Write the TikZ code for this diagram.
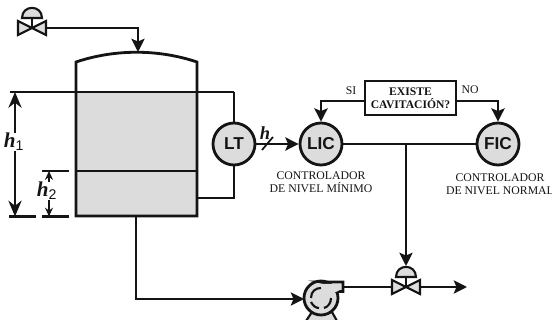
\documentclass[tikz,border=0pt]{standalone}
\usepackage{fontspec}
\setmainfont{Liberation Serif}
\setsansfont{Liberation Sans}
\usetikzlibrary{arrows.meta, positioning, calc}

\begin{document}
\begin{tikzpicture}[
    x=0.02cm, y=-0.02cm,
    every node/.style={font=\rmfamily},
    linea/.style={line width=1.35pt, draw=c1},
    flecha/.style={linea, -{Stealth[length=7.5pt, width=7.5pt, inset=1.5pt]}},
    instrumento/.style={circle, draw=c1, line width=1.6pt, fill=c2, minimum size=0.84cm,
        inner sep=0pt, text=c1, font=\sffamily\bfseries\fontsize{9.8}{12}\selectfont},
    rotulo/.style={font=\rmfamily\fontsize{6.7}{7.6}\selectfont, text=c1, inner sep=0pt},
    altura/.style={font=\rmfamily\bfseries\itshape\fontsize{12}{12}\selectfont, text=c1, inner sep=0pt},
]

\definecolor{c1}{HTML}{141414}
\definecolor{c2}{HTML}{DCDCDC}

\useasboundingbox (0,0) rectangle (552,320);

% ---------------------------------------------------------------- tank
\fill[c2] (76,92) rectangle (197,216);
\draw[linea, line width=1.6pt] (76,92) -- (76,62) .. controls (115,49) and (158,49) .. (197,62) -- (197,216) -- (76,216) -- cycle;
\coordinate (techo) at (138,52);
\coordinate (fondo) at (136,216);

% ---------------------------------------------------------------- levels
\coordinate (h1top) at (15,92);
\coordinate (h1bot) at (15,216.5);
\coordinate (h2top) at (49,171);
\coordinate (h2bot) at (49,216.5);
\coordinate (ltalta) at (234,92);
\coordinate (ltbaja) at (197,198);
\draw[linea] (10,92) -- (ltalta);
\draw[linea] (76,171) -- (197,171);
\draw[linea] (42,171) -- (69,171);
\draw[linea, line width=1.6pt] (9,216.5) -- (36,216.5);
\draw[linea, line width=1.6pt] (42,216.5) -- (69,216.5);
\node[altura] (h1) at (14,142) {h\textsubscript{\sffamily\mdseries\upshape 1}};
\node[altura] (h2) at (47,191) {h\textsubscript{\sffamily\mdseries\upshape 2}};
\draw[linea, -{Stealth[length=9pt, width=7.5pt]}] (h1.north -| h1top) -- (h1top);
\draw[linea, -{Stealth[length=9pt, width=7.5pt]}] (h1.south -| h1bot) -- (h1bot);
\draw[linea, line width=1pt, -{Stealth[length=5pt, width=4.5pt]}] (h2.north -| h2top) -- (h2top);
\draw[linea, line width=1pt, -{Stealth[length=5pt, width=4.5pt]}] (h2.south -| h2bot) -- (h2bot);

% ---------------------------------------------------------------- instruments
\node[instrumento] (lt) at (234,144) {LT};
\node[instrumento] (lic) at (321,144) {LIC};
\node[instrumento] (fic) at (498,144) {FIC};
\node[draw=c1, line width=1.6pt, minimum width=1.82cm, minimum height=0.68cm, inner sep=0pt, align=center,
    font=\rmfamily\bfseries\fontsize{6.6}{7.6}\selectfont, text=c1] (caja) at (410.5,98) {EXISTE\\CAVITACIÓN?};

\node[rotulo] (si) at (351,91) {SI};
\node[rotulo] (no) at (470,90) {NO};
\node[rotulo, align=center] (lminimo) at (321,182.5) {CONTROLADOR\\DE NIVEL MÍNIMO};
\node[rotulo, align=center] (lnormal) at (500,184.5) {CONTROLADOR\\DE NIVEL NORMAL};
\node[altura, font=\rmfamily\bfseries\itshape\fontsize{10.5}{12}\selectfont] (hlabel) at (265,133) {h};

% ---------------------------------------------------------------- valves
\foreach \nm/\vx/\vy in {ventrada/32/28, vsalida/406/287} {
  \fill[c2, draw=c1, line width=1.2pt] (\vx-14,\vy-7) -- (\vx+14,\vy+7) -- (\vx+14,\vy-7) -- (\vx-14,\vy+7) -- cycle;
  \draw[linea] (\vx,\vy) -- (\vx,\vy-10);
  \fill[c2, draw=c1, line width=1.2pt] (\vx-10,\vy-10) .. controls (\vx-10,\vy-23.5) and (\vx+10,\vy-23.5) .. (\vx+10,\vy-10) -- cycle;
  \coordinate (\nm-l) at (\vx-14,\vy);
  \coordinate (\nm-r) at (\vx+14,\vy);
  \coordinate (\nm-t) at (\vx,\vy-21);
}

% ---------------------------------------------------------------- pump
\fill[c2, draw=c1, line width=1.2pt] (306,321) -- (312,312) -- (332,312) -- (337,321);
\node[circle, draw=c1, line width=1.6pt, fill=c2, minimum size=0.68cm, inner sep=0pt] (bomba) at (321,298) {};
\fill[c2, draw=c1, line width=1.6pt] (321,282) -- (343,282) -- (343,291.5) -- (336,291.5) -- (330,284) -- cycle;
\fill[c2] (322,283.8) -- (341,283.8) -- (341,289.5) -- (332,294) -- cycle;
\draw[c1, line width=1.2pt] (311,298) .. controls (311,291) and (316,288) .. (321,288);
\draw[c1, line width=1.2pt] (311,302) .. controls (313,306) and (316,308) .. (319,308);
\draw[c1, line width=1.2pt] (324,308) .. controls (328,307) and (331,303) .. (331,298);
\coordinate (bomba-s) at (343,287);
\coordinate (bomba-e) at (304,299);

% ---------------------------------------------------------------- connectors
\coordinate (codo1) at (138,28);
\coordinate (codo2) at (136,299);
\coordinate (rama) at (406,144);
\coordinate (salida) at (467,287);
\coordinate (barra1) at (262,150);
\coordinate (barra2) at (273,137);
\draw[flecha] (ventrada-r) -- (codo1) -- (techo);
\draw[linea] (ltalta) -- (lt);
\draw[linea] (lt) |- (ltbaja);
\draw[flecha] (lt) -- (lic);
\draw[linea, line width=1pt] (barra1) -- (barra2);
\draw[flecha] (caja.west |- 0,101) -| (lic);
\draw[flecha] (caja.east |- 0,101) -| (fic);
\draw[linea] (lic) -- (fic);
\draw[flecha] (rama) -- (vsalida-t);
\draw[flecha] (fondo) -- (codo2) -- (bomba-e);
\draw[linea] (bomba-s) -- (vsalida-l);
\draw[flecha] (vsalida-r) -- (salida);

\end{tikzpicture}
\end{document}
